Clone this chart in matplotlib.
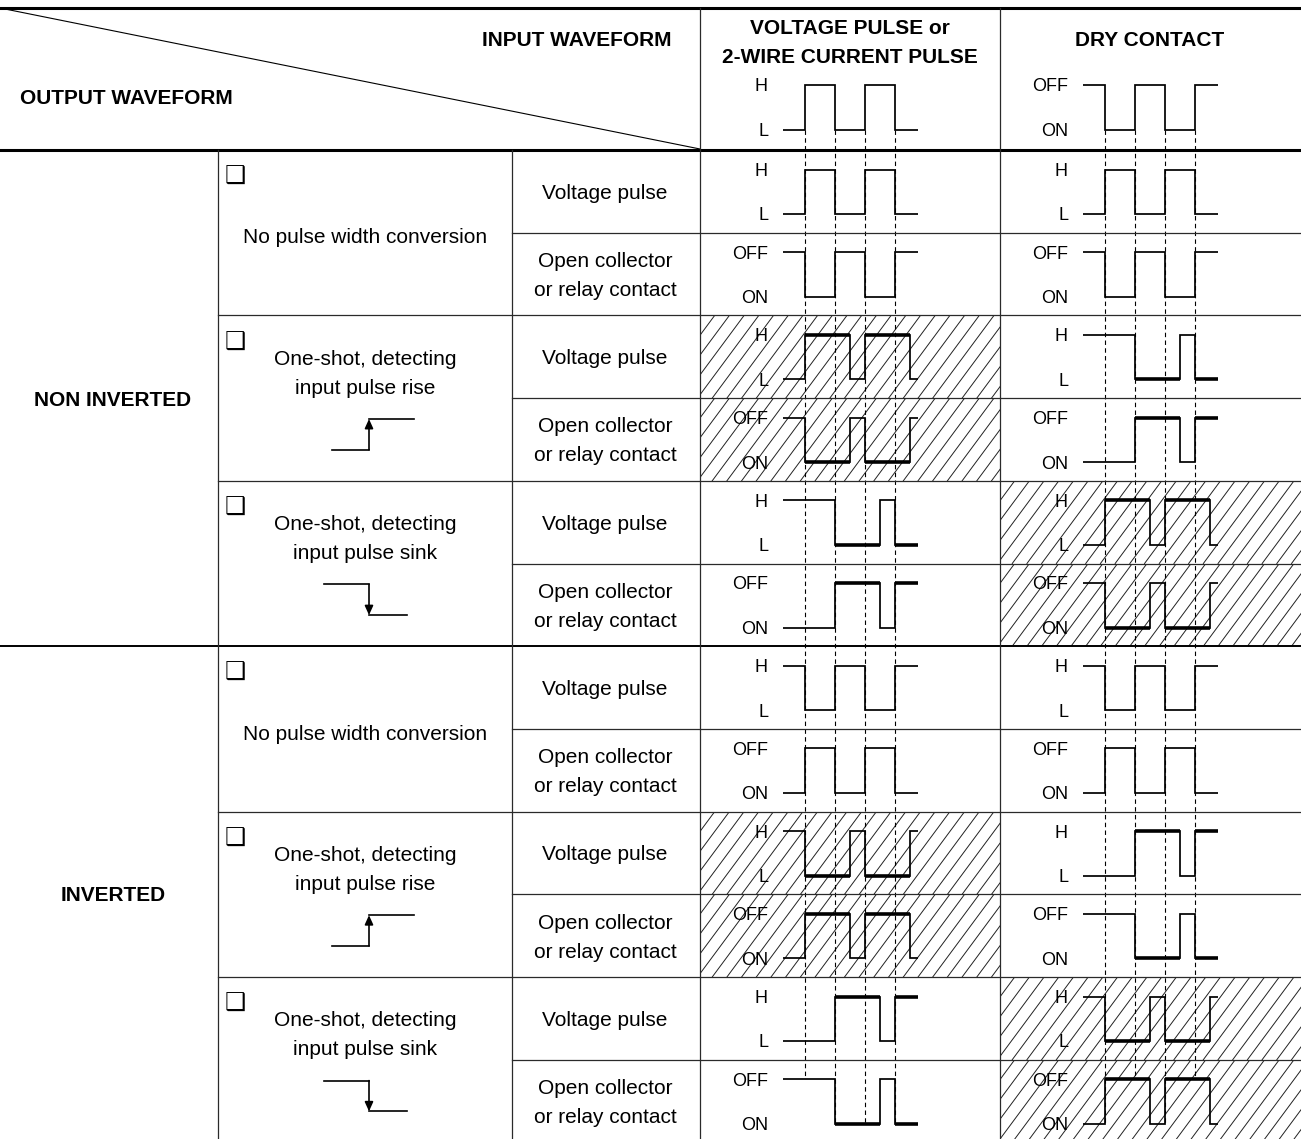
import matplotlib
matplotlib.use("Agg")
import matplotlib.pyplot as plt
from matplotlib.transforms import Affine2D
from matplotlib.patches import Rectangle, FancyArrowPatch

plt.rcParams['font.family'] = ['Liberation Sans', 'DejaVu Sans']

# ------------------------------------------------------------------ data
column_titles = ["VOLTAGE PULSE or\n2-WIRE CURRENT PULSE", "DRY CONTACT"]
header_output = "OUTPUT WAVEFORM"
header_input = "INPUT WAVEFORM"
input_level_labels = [("H", "L"), ("OFF", "ON")]
input_initial = [0, 1]                 # 1 = upper level, 0 = lower level
input_edges = [0, 1, 2, 3]             # transition times (half periods)

groups = ["NON INVERTED", "INVERTED"]
modes = ["No pulse width conversion",
         "One-shot, detecting\ninput pulse rise",
         "One-shot, detecting\ninput pulse sink"]
mode_symbol = [None, "rise", "sink"]
output_types = ["Voltage pulse", "Open collector\nor relay contact"]
output_level_labels = [("H", "L"), ("OFF", "ON")]

# 12 output sub-rows, for each input column: initial level + transition times
vp_initial = [0, 1, 0, 1, 1, 0, 1, 0, 1, 0, 0, 1]
vp_edges = [[0, 1, 2, 3], [0, 1, 2, 3],
            [0, 1.5, 2, 3.5], [0, 1.5, 2, 3.5],
            [1, 2.5, 3], [1, 2.5, 3],
            [0, 1, 2, 3], [0, 1, 2, 3],
            [0, 1.5, 2, 3.5], [0, 1.5, 2, 3.5],
            [1, 2.5, 3], [1, 2.5, 3]]
dc_initial = [0, 1, 1, 0, 0, 1, 1, 0, 0, 1, 1, 0]
dc_edges = [[0, 1, 2, 3], [0, 1, 2, 3],
            [1, 2.5, 3], [1, 2.5, 3],
            [0, 1.5, 2, 3.5], [0, 1.5, 2, 3.5],
            [0, 1, 2, 3], [0, 1, 2, 3],
            [1, 2.5, 3], [1, 2.5, 3],
            [0, 1.5, 2, 3.5], [0, 1.5, 2, 3.5]]
one_shot = [False, False, True, True, True, True] * 2
vp_hatched = [False, False, True, True, False, False] * 2
dc_hatched = [False, False, False, False, True, True] * 2

# ------------------------------------------------------------------ layout
W, H = 1301, 1139
ROW0, ROW_H = 150.0, 82.7
X_GROUP, X_MODE, X_TYPE, X_VP, X_DC = 0, 218, 512, 700, 1000
COL_X = [X_VP, X_DC]
WAVE_X0 = 104.5          # offset of t=0 inside a waveform column
PX_T = 30.0              # pixels per half period
T_START, T_END = -0.73, 3.77
HI_OFF, LO_OFF = 19.5, 64.0
HEADER_T = 65.5
LBL_RIGHT = 68
GRID = '#2a2a2a'

fig = plt.figure(figsize=(W / 100, H / 100), dpi=100)
ax = fig.add_axes([0, 0, 1, 1])
ax.set_xlim(0, W)
ax.set_ylim(H, 0)
ax.axis('off')

BODY = 15
LBL = 13


def text_lines(x, yc, s, size=BODY, weight='normal', ha='center', pitch=29):
    lines = s.split("\n")
    n = len(lines)
    for i, ln in enumerate(lines):
        y = yc + (i - (n - 1) / 2) * pitch
        ax.text(x, y + 0.358 * size * 100 / 72, ln, fontsize=size, weight=weight,
                ha=ha, va='baseline', color='black', zorder=6)


def row_top(k):
    return ROW0 + k * ROW_H


def t2x(col, t):
    return COL_X[col] + WAVE_X0 + PX_T * t


def draw_wave(col, top, init, edges, bold):
    tr = Affine2D().scale(PX_T, -(LO_OFF - HI_OFF)).translate(
        COL_X[col] + WAVE_X0, top + LO_OFF) + ax.transData
    ts, ls, cur = [T_START], [init], init
    for e in edges:
        ts += [e, e]
        ls += [cur, 1 - cur]
        cur = 1 - cur
    ts.append(T_END)
    ls.append(cur)
    ax.plot(ts, ls, transform=tr, color='black', lw=1.25,
            solid_joinstyle='miter', solid_capstyle='butt', zorder=4)
    if bold:
        bounds = [T_START] + list(edges) + [T_END]
        for i in range(1, len(bounds) - 1, 2):
            ax.plot([bounds[i], bounds[i + 1]], [1 - init, 1 - init], transform=tr,
                    color='black', lw=2.6, solid_capstyle='butt', zorder=4)


def level_labels(col, top, labels):
    x = COL_X[col] + LBL_RIGHT
    text_lines(x, top + HI_OFF, labels[0], size=LBL, ha='right')
    text_lines(x, top + LO_OFF, labels[1], size=LBL, ha='right')


def hatch(x0, y0, x1, y1, step=14.7, slope=1.35):
    clip = Rectangle((x0, y0), x1 - x0, y1 - y0, transform=ax.transData,
                     fill=False, lw=0)
    ax.add_patch(clip)
    h = y1 - y0
    c = x0 - h / slope
    while c < x1 + step:
        ln, = ax.plot([c, c + h / slope], [y1, y0], color='#222222', lw=0.7, zorder=1)
        ln.set_clip_path(clip)
        c += step


def level_at(init, edges, t):
    if t in edges:
        return 0
    n = sum(1 for e in edges if e < t)
    return init if n % 2 == 0 else 1 - init


# ------------------------------------------------------------------ header
ax.plot([0, W], [8, 8], color='black', lw=2.2, zorder=3)
ax.plot([0, W], [ROW0, ROW0], color='black', lw=2.2, zorder=3)
ax.plot([5, X_VP], [9, ROW0 - 1], color='black', lw=0.8, zorder=3)
text_lines(672, 39, header_input, weight='bold', ha='right')
text_lines(20, 97, header_output, weight='bold', ha='left')
text_lines(850, 41.5, column_titles[0], weight='bold')
text_lines(1150, 39, column_titles[1], weight='bold')
for col in range(2):
    draw_wave(col, HEADER_T, input_initial[col], input_edges, False)
    level_labels(col, HEADER_T, input_level_labels[col])

# ------------------------------------------------------------------ body
for r in range(12):
    top = row_top(r)
    if vp_hatched[r]:
        hatch(X_VP, top, X_DC, top + ROW_H)
    if dc_hatched[r]:
        hatch(X_DC, top, W, top + ROW_H)
    kind = r % 2
    draw_wave(0, top, vp_initial[r], vp_edges[r], one_shot[r])
    draw_wave(1, top, dc_initial[r], dc_edges[r], one_shot[r])
    level_labels(0, top, output_level_labels[kind])
    level_labels(1, top, output_level_labels[kind])
    text_lines(605, top + ROW_H / 2, output_types[kind])

# dashed guide lines from the input edges down to the last output waveform
for col, (inits, edges) in enumerate([(vp_initial, vp_edges), (dc_initial, dc_edges)]):
    last_top = row_top(11)
    for e in input_edges:
        lvl = level_at(inits[-1], edges[-1], e)
        y_end = last_top + (HI_OFF if lvl == 1 else LO_OFF)
        ax.plot([t2x(col, e)] * 2, [HEADER_T + LO_OFF, y_end], color='black',
                lw=0.8, dashes=(4, 3), zorder=2)

# mode cells
for p in range(6):
    top = row_top(2 * p)
    m = p % 3
    ax.text(225, top + 27, "\u2751", fontsize=17, family=['DejaVu Sans'],
            ha='left', va='center', zorder=6)
    if mode_symbol[m] is None:
        text_lines(365, top + 86, modes[m])
    else:
        text_lines(365, top + 56.5, modes[m])
        ylo, yhi = top + 134.3, top + 103.6
        if mode_symbol[m] == "rise":
            ax.plot([332, 369], [ylo, ylo], color='black', lw=1.2, zorder=4)
            ax.plot([369, 414], [yhi, yhi], color='black', lw=1.2, zorder=4)
            a, b = (369, ylo), (369, yhi)
        else:
            ax.plot([324, 369], [yhi, yhi], color='black', lw=1.2, zorder=4)
            ax.plot([369, 407], [ylo, ylo], color='black', lw=1.2, zorder=4)
            a, b = (369, yhi), (369, ylo)
        ax.add_patch(FancyArrowPatch(a, b, arrowstyle='-|>,head_length=0.55,head_width=0.25',
                                     mutation_scale=10, color='black', lw=1.2,
                                     shrinkA=0, shrinkB=0, zorder=4))

# group labels
text_lines(113, (ROW0 + row_top(6)) / 2, groups[0], weight='bold')
text_lines(113, (row_top(6) + H) / 2 + 1, groups[1], weight='bold')

# grid lines
for k in range(1, 12):
    y = row_top(k)
    if k == 6:
        ax.plot([0, W], [y, y], color='black', lw=1.4, zorder=3)
    elif k % 2 == 0:
        ax.plot([X_MODE, W], [y, y], color=GRID, lw=0.9, zorder=3)
    else:
        ax.plot([X_TYPE, W], [y, y], color=GRID, lw=0.9, zorder=3)
for x in (X_MODE, X_TYPE):
    ax.plot([x, x], [ROW0, H], color=GRID, lw=0.9, zorder=3)
for x in (X_VP, X_DC):
    ax.plot([x, x], [8, H], color=GRID, lw=0.9, zorder=3)

fig.savefig("out.png", dpi=100)
